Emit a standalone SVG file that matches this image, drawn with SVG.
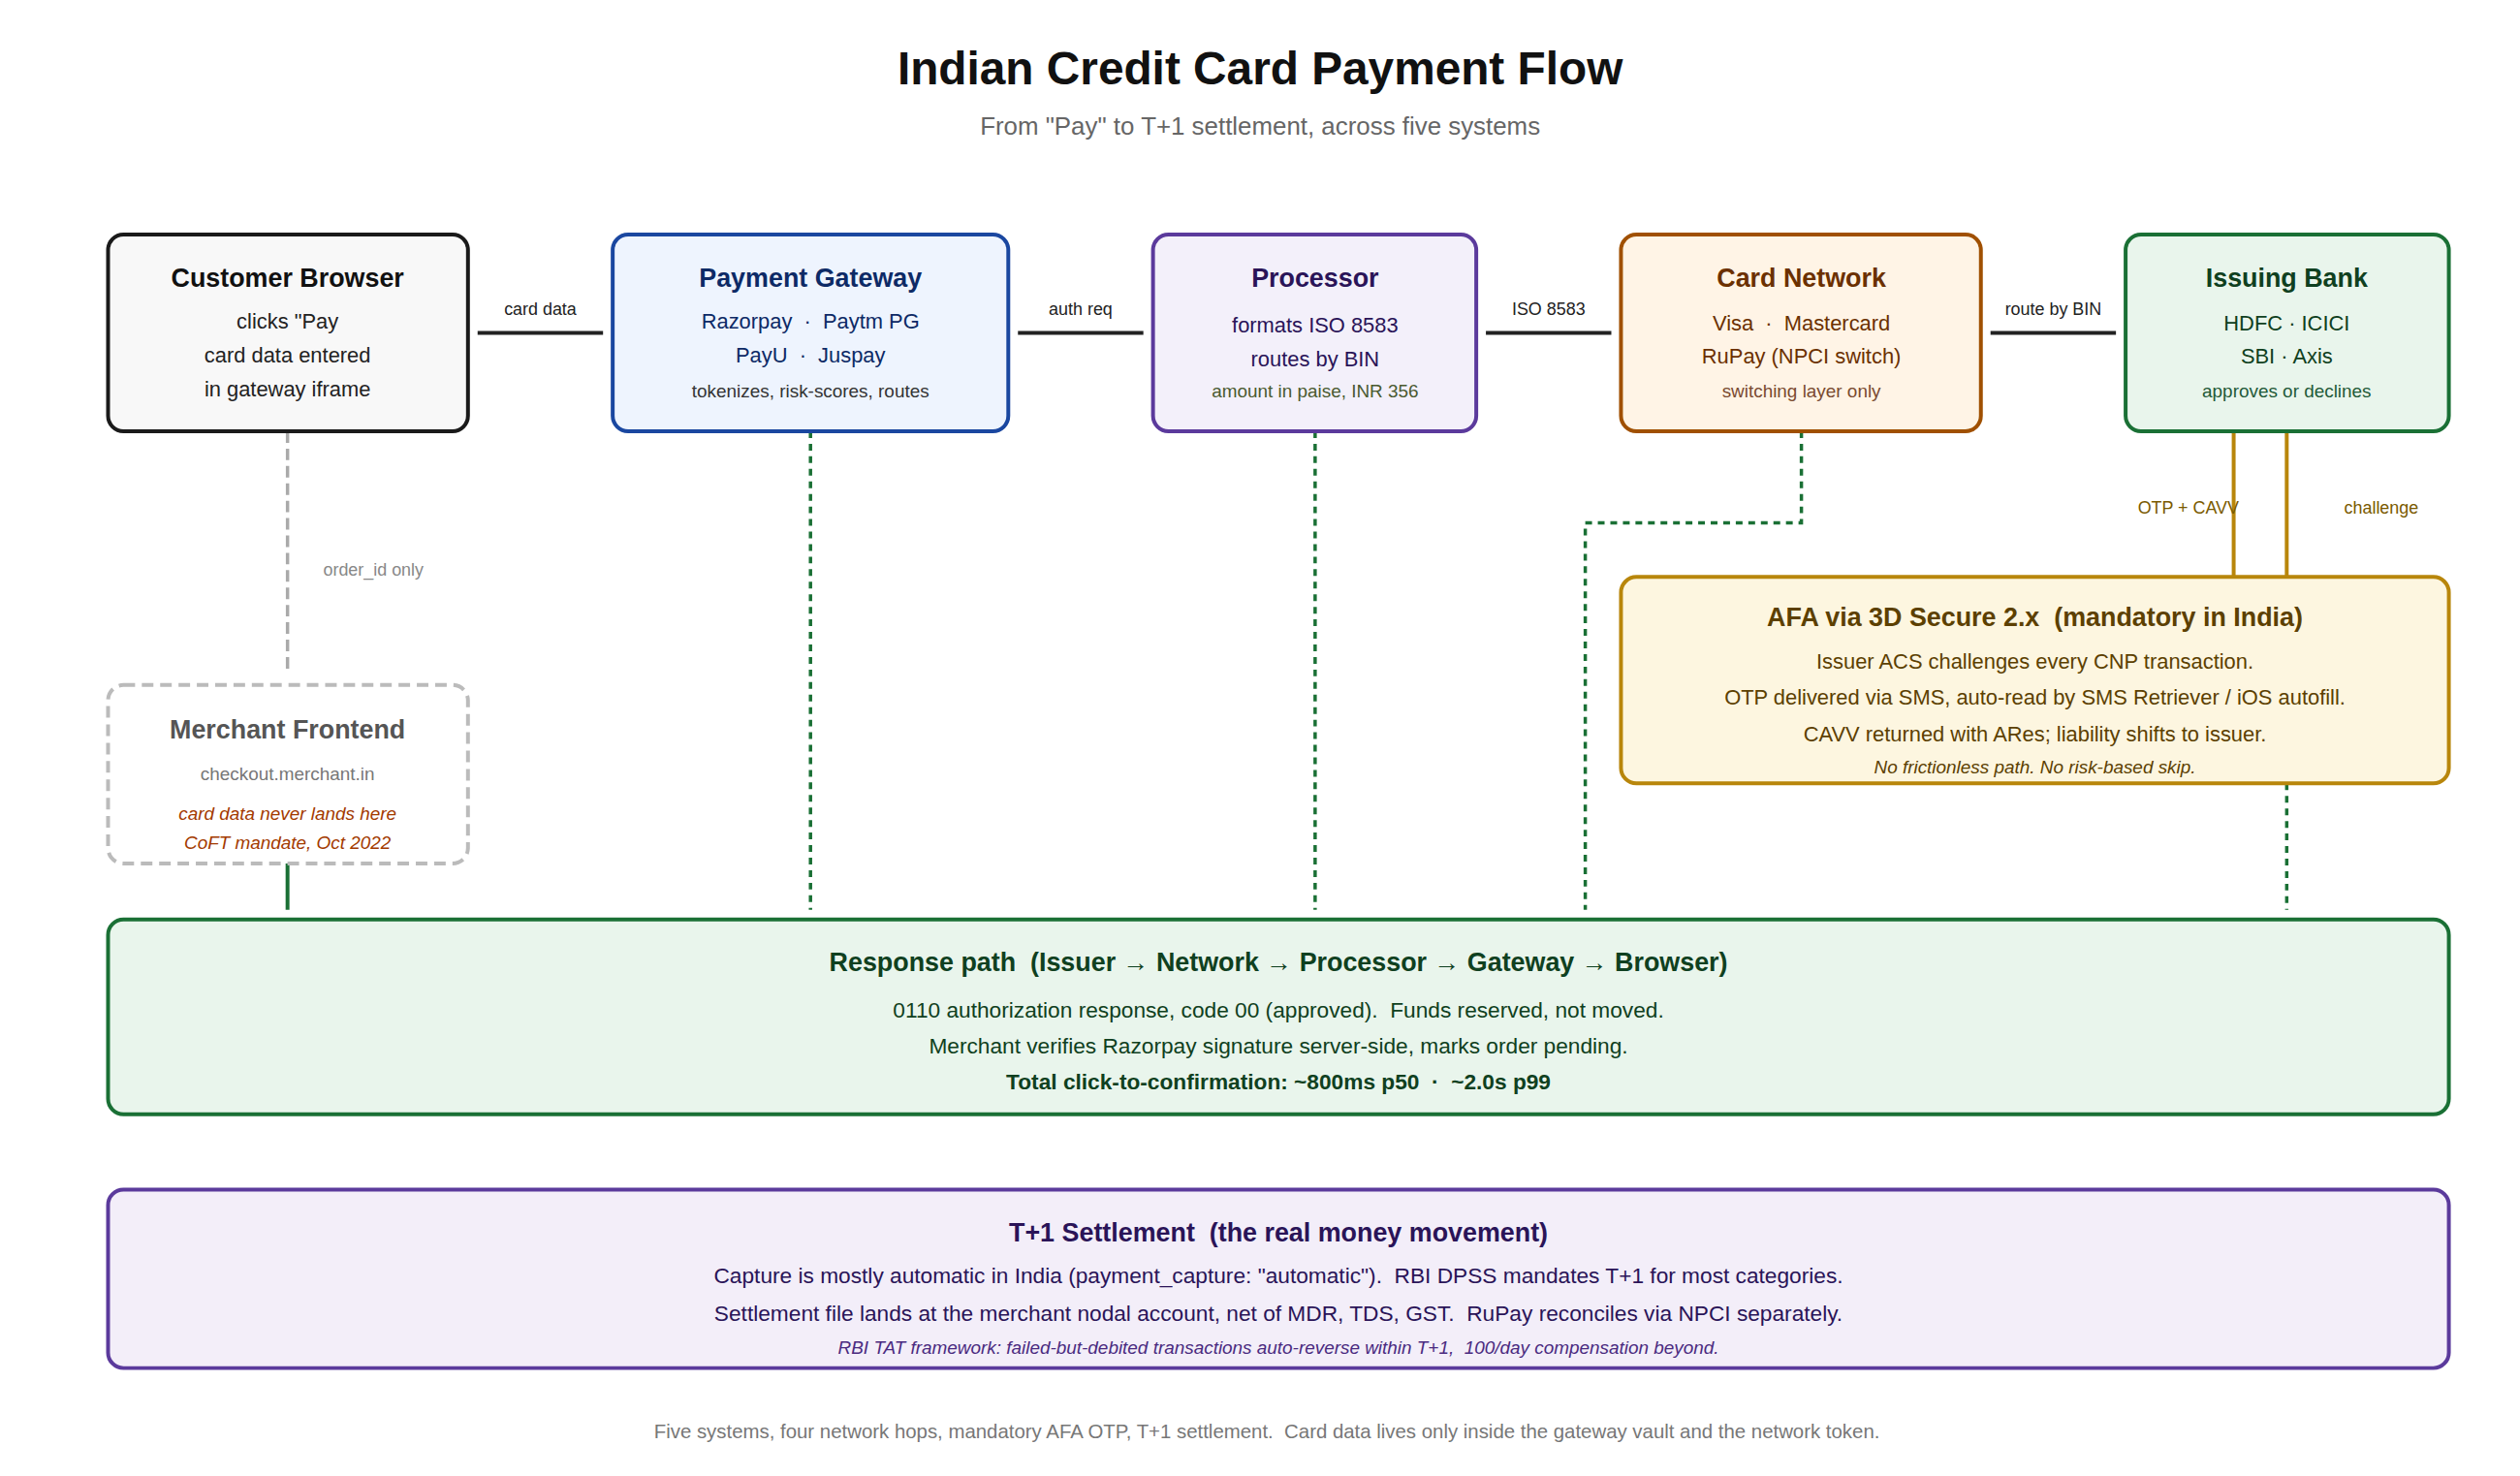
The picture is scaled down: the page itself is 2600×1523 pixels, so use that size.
<svg xmlns="http://www.w3.org/2000/svg" width="2600" height="1523" viewBox="0 0 2600 1523">
<style>
text{font-family:"Liberation Sans",Arial,sans-serif;text-anchor:middle;white-space:pre}
.t{font-size:27px;font-weight:bold}
.b{font-size:22px}
.w{font-size:22.8px}
.s{font-size:19px}
.l{font-size:18px}
.box{stroke-width:4}
.it{font-style:italic}
</style>
<rect width="2600" height="1523" fill="#ffffff"/>
<g transform="scale(0.9955)">
<text x="1306" y="87" style="font-size:48px;font-weight:bold" fill="#111">Indian Credit Card Payment Flow</text>
<text x="1306" y="140" style="font-size:26px" fill="#666">From "Pay" to T+1 settlement, across five systems</text>

<g id="connectors" fill="none">
<g stroke="#222" stroke-width="4">
<line x1="495" y1="345" x2="625" y2="345"/>
<line x1="1055" y1="345" x2="1185" y2="345"/>
<line x1="1540" y1="345" x2="1670" y2="345"/>
<line x1="2063" y1="345" x2="2193" y2="345"/>
</g>
<line x1="298" y1="447" x2="298" y2="697" stroke="#aaa" stroke-width="3.5" stroke-dasharray="12,6"/>
<line x1="298" y1="895" x2="298" y2="943" stroke="#1a7035" stroke-width="4"/>
<g stroke="#1a7035" stroke-width="3.5" stroke-dasharray="7,6">
<line x1="840" y1="447" x2="840" y2="943"/>
<line x1="1363" y1="447" x2="1363" y2="943"/>
<polyline points="1867,447 1867,542 1643,542 1643,943"/>
<line x1="2370" y1="812" x2="2370" y2="943"/>
</g>
<g stroke="#b8860b" stroke-width="4">
<line x1="2315" y1="447" x2="2315" y2="598"/>
<line x1="2370" y1="447" x2="2370" y2="598"/>
</g>
<g stroke="none">
<text x="560" y="326" class="l" fill="#222">card data</text>
<text x="1120" y="326" class="l" fill="#222">auth req</text>
<text x="1605" y="326" class="l" fill="#222">ISO 8583</text>
<text x="2128" y="326" class="l" fill="#222">route by BIN</text>
<text x="335" y="597" class="l" fill="#888" style="text-anchor:start">order_id only</text>
<text x="2268" y="532" class="l" fill="#7a5a00">OTP + CAVV</text>
<text x="2468" y="532" class="l" fill="#7a5a00">challenge</text>
</g>
</g>

<g id="browser">
<rect x="112" y="243" width="373" height="204" rx="16" class="box" fill="#f8f8f8" stroke="#1a1a1a"/>
<text x="298" y="297" class="t" fill="#111">Customer Browser</text>
<text x="298" y="341" class="b" fill="#222">clicks "Pay</text>
<text x="298" y="376" class="b" fill="#222">card data entered</text>
<text x="298" y="411" class="b" fill="#222">in gateway iframe</text>
</g>
<g id="gateway">
<rect x="635" y="243" width="410" height="204" rx="16" class="box" fill="#eef4fe" stroke="#1a47a0"/>
<text x="840" y="297" class="t" fill="#0d2a66">Payment Gateway</text>
<text x="840" y="341" class="b" fill="#0d2a66">Razorpay  ·  Paytm PG</text>
<text x="840" y="376" class="b" fill="#0d2a66">PayU  ·  Juspay</text>
<text x="840" y="412" class="s" fill="#333">tokenizes, risk-scores, routes</text>
</g>
<g id="processor">
<rect x="1195" y="243" width="335" height="204" rx="16" class="box" fill="#f3f0fa" stroke="#5b3a9c"/>
<text x="1363" y="297" class="t" fill="#2a1458">Processor</text>
<text x="1363" y="345" class="b" fill="#2a1458">formats ISO 8583</text>
<text x="1363" y="380" class="b" fill="#2a1458">routes by BIN</text>
<text x="1363" y="412" class="s" fill="#4a5a30">amount in paise, INR 356</text>
</g>
<g id="network">
<rect x="1680" y="243" width="373" height="204" rx="16" class="box" fill="#fff4e6" stroke="#a05000"/>
<text x="1867" y="297" class="t" fill="#6b3000">Card Network</text>
<text x="1867" y="343" class="b" fill="#6b3000">Visa  ·  Mastercard</text>
<text x="1867" y="377" class="b" fill="#6b3000">RuPay (NPCI switch)</text>
<text x="1867" y="412" class="s" fill="#7a4a30">switching layer only</text>
</g>
<g id="issuer">
<rect x="2203" y="243" width="335" height="204" rx="16" class="box" fill="#e9f5ec" stroke="#1a7035"/>
<text x="2370" y="297" class="t" fill="#0f4020">Issuing Bank</text>
<text x="2370" y="343" class="b" fill="#0f4020">HDFC · ICICI</text>
<text x="2370" y="377" class="b" fill="#0f4020">SBI · Axis</text>
<text x="2370" y="412" class="s" fill="#1f5a38">approves or declines</text>
</g>
<g id="merchant">
<rect x="112" y="710" width="373" height="185" rx="16" class="box" fill="#ffffff" stroke="#bbb" stroke-dasharray="12,7"/>
<text x="298" y="765" class="t" fill="#555">Merchant Frontend</text>
<text x="298" y="809" class="s" fill="#777">checkout.merchant.in</text>
<text x="298" y="850" class="s it" fill="#a33a00">card data never lands here</text>
<text x="298" y="880" class="s it" fill="#a33a00">CoFT mandate, Oct 2022</text>
</g>
<g id="afa">
<rect x="1680" y="598" width="858" height="214" rx="16" class="box" fill="#fdf6e0" stroke="#b8860b"/>
<text x="2109" y="649" class="t" fill="#5c4000">AFA via 3D Secure 2.x  (mandatory in India)</text>
<text x="2109" y="693" class="b" fill="#5c4000">Issuer ACS challenges every CNP transaction.</text>
<text x="2109" y="730" class="b" fill="#5c4000">OTP delivered via SMS, auto-read by SMS Retriever / iOS autofill.</text>
<text x="2109" y="768" class="b" fill="#5c4000">CAVV returned with ARes; liability shifts to issuer.</text>
<text x="2109" y="802" class="s it" fill="#5c4000">No frictionless path. No risk-based skip.</text>
</g>
<g id="response">
<rect x="112" y="953" width="2426" height="202" rx="16" class="box" fill="#e9f5ec" stroke="#1a7035"/>
<text x="1325" y="1007" class="t" fill="#0f4020">Response path  (Issuer → Network → Processor → Gateway → Browser)</text>
<text x="1325" y="1055" class="w" fill="#0f4020">0110 authorization response, code 00 (approved).  Funds reserved, not moved.</text>
<text x="1325" y="1092" class="w" fill="#0f4020">Merchant verifies Razorpay signature server-side, marks order pending.</text>
<text x="1325" y="1129" class="w" fill="#0f4020" style="font-weight:bold">Total click-to-confirmation: ~800ms p50  ·  ~2.0s p99</text>
</g>
<g id="settlement">
<rect x="112" y="1233" width="2426" height="185" rx="16" class="box" fill="#f3eef9" stroke="#5b3a9c"/>
<text x="1325" y="1287" class="t" fill="#2a1458">T+1 Settlement  (the real money movement)</text>
<text x="1325" y="1330" class="w" fill="#2a1458">Capture is mostly automatic in India (payment_capture: "automatic").  RBI DPSS mandates T+1 for most categories.</text>
<text x="1325" y="1369" class="w" fill="#2a1458">Settlement file lands at the merchant nodal account, net of MDR, TDS, GST.  RuPay reconciles via NPCI separately.</text>
<text x="1325" y="1403" class="s it" fill="#4a2a80">RBI TAT framework: failed-but-debited transactions auto-reverse within T+1,  100/day compensation beyond.</text>
</g>
<text x="1313" y="1491" style="font-size:20.5px" fill="#777">Five systems, four network hops, mandatory AFA OTP, T+1 settlement.  Card data lives only inside the gateway vault and the network token.</text>
</g>
</svg>
